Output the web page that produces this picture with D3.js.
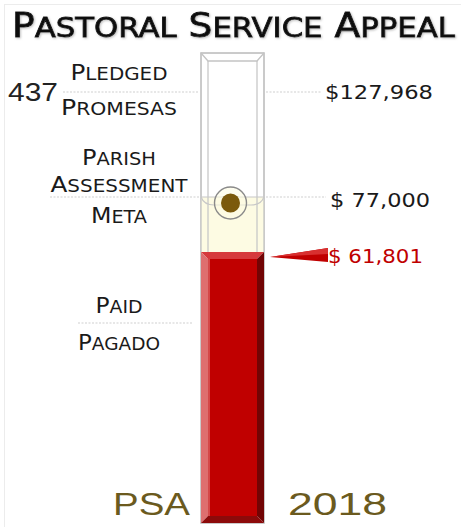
<!DOCTYPE html>
<html>
<head>
<meta charset="utf-8">
<script src="https://cdn.jsdelivr.net/npm/d3@7"></script>
<style>
html,body{margin:0;padding:0;background:#fff;}
svg{display:block;}
</style>
</head>
<body>
<svg id="chart" width="461" height="527"></svg>
<script>
// ---- data ----
const titleWords = ["Pastoral", "Service", "Appeal"];
const markerNamesEn = ["Pledged", "Parish Assessment", "Paid"];
const markerNamesEs = ["Promesas", "Meta", "Pagado"];
const markerValues = [127968, 77000, 61801];
const donorCount = 437;
const campaignName = "PSA";
const campaignYear = "2018";

const svg = d3.select("#chart");

// faint frame
svg.append("rect").attr("x", 4.5).attr("y", 4.5).attr("width", 470).attr("height", 540)
  .attr("fill", "none").attr("stroke", "#ececec");

const defs = svg.append("defs");
const f = defs.append("filter").attr("id", "shadow").attr("x", "-5%").attr("y", "-20%").attr("width", "110%").attr("height", "150%");
f.append("feDropShadow").attr("dx", 1).attr("dy", 1).attr("stdDeviation", 1).attr("flood-color", "#999").attr("flood-opacity", 0.6);

// value scale (pictograph, piecewise)
const [pledged, goal, paid] = markerValues;
const y = d3.scaleLinear().domain([0, paid, goal, pledged]).range([523, 252, 197, 92]);

const tubeL = 201, tubeR = 264, inset = 7, tubeTop = 53;
const cx = (tubeL + tubeR) / 2;

// small caps helper
function smallCaps(g, text, x, yy, big, small, len, opts = {}) {
  const t = g.append("text").attr("x", x).attr("y", yy)
    .attr("text-anchor", opts.anchor || "middle")
    .attr("font-family", opts.family || "'DejaVu Sans', sans-serif")
    .attr("font-weight", opts.weight || "normal")
    .attr("fill", opts.fill || "#1a1a1a");
  if (len) t.attr("textLength", len).attr("lengthAdjust", "spacingAndGlyphs");
  const words = text.split(" ");
  words.forEach((w, i) => {
    t.append("tspan").attr("font-size", big).text((i > 0 ? " " : "") + w[0].toUpperCase());
    t.append("tspan").attr("font-size", small).text(w.slice(1).toUpperCase());
  });
  return t;
}

// title
smallCaps(svg, titleWords.join(" "), 12, 37, 33, 27, 443,
  {anchor: "start", family: "'DejaVu Sans', sans-serif", fill: "#111"})
  .attr("stroke", "#111").attr("stroke-width", 0.8).attr("filter", "url(#shadow)");

// ---- tube ----
const tube = svg.append("g");
tube.append("rect").attr("x", tubeL).attr("y", tubeTop).attr("width", tubeR - tubeL).attr("height", 523 - tubeTop)
  .attr("fill", "#fff").attr("stroke", "#c4c4c4").attr("stroke-width", 1.3);

// cream region between goal and paid
tube.append("rect").attr("x", tubeL).attr("y", y(goal)).attr("width", tubeR - tubeL).attr("height", y(paid) - y(goal))
  .attr("fill", "#fdfbe3");

// inner lines
[tubeL + inset, tubeR - inset].forEach(x => {
  tube.append("line").attr("x1", x).attr("x2", x).attr("y1", tubeTop + 8).attr("y2", 523)
    .attr("stroke", "#c8c8c8").attr("stroke-width", 1.3);
});
tube.append("path")
  .attr("d", `M${tubeL},${tubeTop} L${tubeL + inset},${tubeTop + 8} L${tubeR - inset},${tubeTop + 8} L${tubeR},${tubeTop}`)
  .attr("fill", "none").attr("stroke", "#c4c4c4").attr("stroke-width", 1.3);
tube.append("rect").attr("x", tubeL).attr("y", tubeTop).attr("width", tubeR - tubeL).attr("height", 523 - tubeTop)
  .attr("fill", "none").attr("stroke", "#c4c4c4").attr("stroke-width", 1.3);

// meniscus at goal
const gy = y(goal);
tube.append("line").attr("x1", tubeL).attr("x2", tubeR).attr("y1", gy).attr("y2", gy)
  .attr("stroke", "#c8c8c8").attr("stroke-width", 1.2);
tube.append("path")
  .attr("d", `M${tubeL},${gy} Q${tubeL + 3},${gy + 8} ${tubeL + 13},${gy + 8} L${tubeR - 13},${gy + 8} Q${tubeR - 3},${gy + 8} ${tubeR},${gy}`)
  .attr("fill", "none").attr("stroke", "#c8c8c8").attr("stroke-width", 1.2);

// goal marker
tube.append("circle").attr("cx", cx - 2).attr("cy", gy + 6).attr("r", 16)
  .attr("fill", "#fdfbe3").attr("fill-opacity", 0.6).attr("stroke", "#8a8a8a").attr("stroke-width", 1.4);
tube.append("circle").attr("cx", cx - 2).attr("cy", gy + 6).attr("r", 9.5).attr("fill", "#7b5a0c");

// ---- paid bar ----
const bar = svg.append("g");
const py = y(paid), by = y(0);
const iL = tubeL + inset, iR = tubeR - inset, iT = py + 7, iB = by - 7;
bar.append("path").attr("d", `M${tubeL},${py} L${tubeR},${py} L${iR},${iT} L${iL},${iT}Z`).attr("fill", "#d63a3c");
bar.append("path").attr("d", `M${tubeL},${py} L${iL},${iT} L${iL},${iB} L${tubeL},${by}Z`).attr("fill", "#de6f6f");
bar.append("path").attr("d", `M${tubeR},${py} L${iR},${iT} L${iR},${iB} L${tubeR},${by}Z`).attr("fill", "#720404");
bar.append("path").attr("d", `M${tubeL},${by} L${iL},${iB} L${iR},${iB} L${tubeR},${by}Z`).attr("fill", "#8c0a0a");
bar.append("rect").attr("x", iL).attr("y", iT).attr("width", iR - iL).attr("height", iB - iT).attr("fill", "#c00000");
bar.append("line").attr("x1", iL + 1).attr("x2", iL + 1).attr("y1", iT).attr("y2", iB).attr("stroke", "#e89090").attr("stroke-width", 1);

// pointer
const pc = py + 4;
svg.append("path").attr("d", `M270,${pc + 1} L328,${pc - 8} L328,${pc + 6}Z`).attr("fill", "#c00000");
svg.append("path").attr("d", `M270,${pc + 1} L328,${pc - 8} L328,${pc - 2}Z`).attr("fill", "#d83030");

// ---- dashed leaders ----
function dash(x1, x2, yy) {
  svg.append("line").attr("x1", x1).attr("x2", x2).attr("y1", yy).attr("y2", yy)
    .attr("stroke", "#cfcfcf").attr("stroke-width", 1).attr("stroke-dasharray", "2,1.5");
}
dash(63, 199, y(pledged)); dash(266, 322, y(pledged));
dash(50, 199, y(goal)); dash(266, 326, y(goal));
dash(78, 193, 323);

// ---- labels ----
const lx = 119;
smallCaps(svg, markerNamesEn[0], lx, 80, 21, 17, 97);
smallCaps(svg, markerNamesEs[0], lx, 115, 21, 17, 116);
svg.append("text").attr("x", 8).attr("y", 101).attr("font-family", "'Liberation Sans', Arial, sans-serif")
  .attr("font-size", 25).attr("fill", "#222").attr("textLength", 50).attr("lengthAdjust", "spacingAndGlyphs")
  .text(d3.format("d")(donorCount));

const enWords = markerNamesEn[1].split(" ");
smallCaps(svg, enWords[0], lx, 165, 21, 17, 74);
smallCaps(svg, enWords[1], lx, 192, 21, 17, 137);
smallCaps(svg, markerNamesEs[1], lx, 223, 21, 17, 56);

smallCaps(svg, markerNamesEn[2], lx, 313, 21, 17, 47);
smallCaps(svg, markerNamesEs[2], lx, 350, 21, 17, 82);

// values
const fmt = d3.format(",");
function valText(x, yy, s, len, fill) {
  svg.append("text").attr("x", x).attr("y", yy).attr("font-family", "'DejaVu Sans', sans-serif")
    .attr("font-size", 20).attr("fill", fill).attr("textLength", len).attr("lengthAdjust", "spacingAndGlyphs").text(s);
}
valText(325, y(pledged) + 7, "$" + fmt(pledged), 108, "#1a1a1a");
valText(330, y(goal) + 10, "$ " + fmt(goal), 100, "#1a1a1a");
valText(328, y(paid) + 11, "$ " + fmt(paid), 95, "#c00000");

// footer
svg.append("text").attr("x", 113).attr("y", 515).attr("font-family", "'Liberation Sans', Arial, sans-serif")
  .attr("font-size", 32).attr("fill", "#6b5a1e").attr("textLength", 77).attr("lengthAdjust", "spacingAndGlyphs").text(campaignName);
svg.append("text").attr("x", 288).attr("y", 515).attr("font-family", "'Liberation Sans', Arial, sans-serif")
  .attr("font-size", 32).attr("fill", "#6b5a1e").attr("textLength", 99).attr("lengthAdjust", "spacingAndGlyphs").text(campaignYear);
</script>
</body>
</html>
